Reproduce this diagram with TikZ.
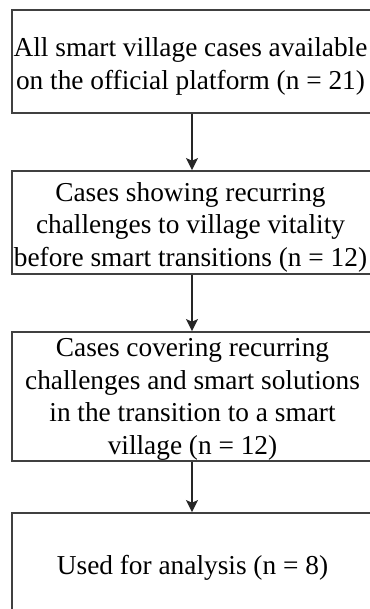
\documentclass[tikz,border=0pt]{standalone}
\usepackage{fontspec}
\setmainfont{Liberation Serif}
\usetikzlibrary{arrows.meta}
\definecolor{boxline}{HTML}{404040}
\tikzset{
  flowbox/.style={draw=boxline, line width=1.4pt, inner sep=0pt,
    minimum width=361*0.75pt},
  flowtext/.style={inner sep=0pt, align=center,
    font=\fontsize{20.5pt}{24.4pt}\selectfont},
  flowarrow/.style={draw=black!85, line width=1.1pt,
    -{Stealth[length=9pt, width=9pt, inset=2pt]}}
}
\begin{document}
\begin{tikzpicture}[x=0.75pt, y=-0.75pt]
\useasboundingbox (0,0) rectangle (370,609);
\fill[white] (0,0) rectangle (370,609);
\clip (0,0) rectangle (370,609);
\node[flowbox, minimum height=103*0.75pt] (b1) at (192.5,61.5) {};
\node[flowbox, minimum height=103*0.75pt] (b2) at (192.5,222.5) {};
\node[flowbox, minimum height=129*0.75pt] (b3) at (192.5,396.5) {};
\node[flowbox, minimum height=108*0.75pt] (b4) at (192.5,567) {};
\node[flowtext] (t1) at (190.5,66.5)
  {All smart village cases available\\on the official platform (n = 21)};
\node[flowtext] (t2) at (190.5,227)
  {Cases showing recurring\\challenges to village vitality\\before smart transitions (n = 12)};
\node[flowtext] (t3) at (192.5,399.5)
  {Cases covering recurring\\challenges and smart solutions\\in the transition to a smart\\village (n = 12)};
\node[flowtext] (t4) at (192.5,567.5)
  {Used for analysis (n = 8)};
\draw[flowarrow] (b1.south -| 192,0) -- (b2.north -| 192,0);
\draw[flowarrow] (b2.south -| 192,0) -- (b3.north -| 192,0);
\draw[flowarrow] (b3.south -| 192,0) -- (b4.north -| 192,0);
\end{tikzpicture}
\end{document}
